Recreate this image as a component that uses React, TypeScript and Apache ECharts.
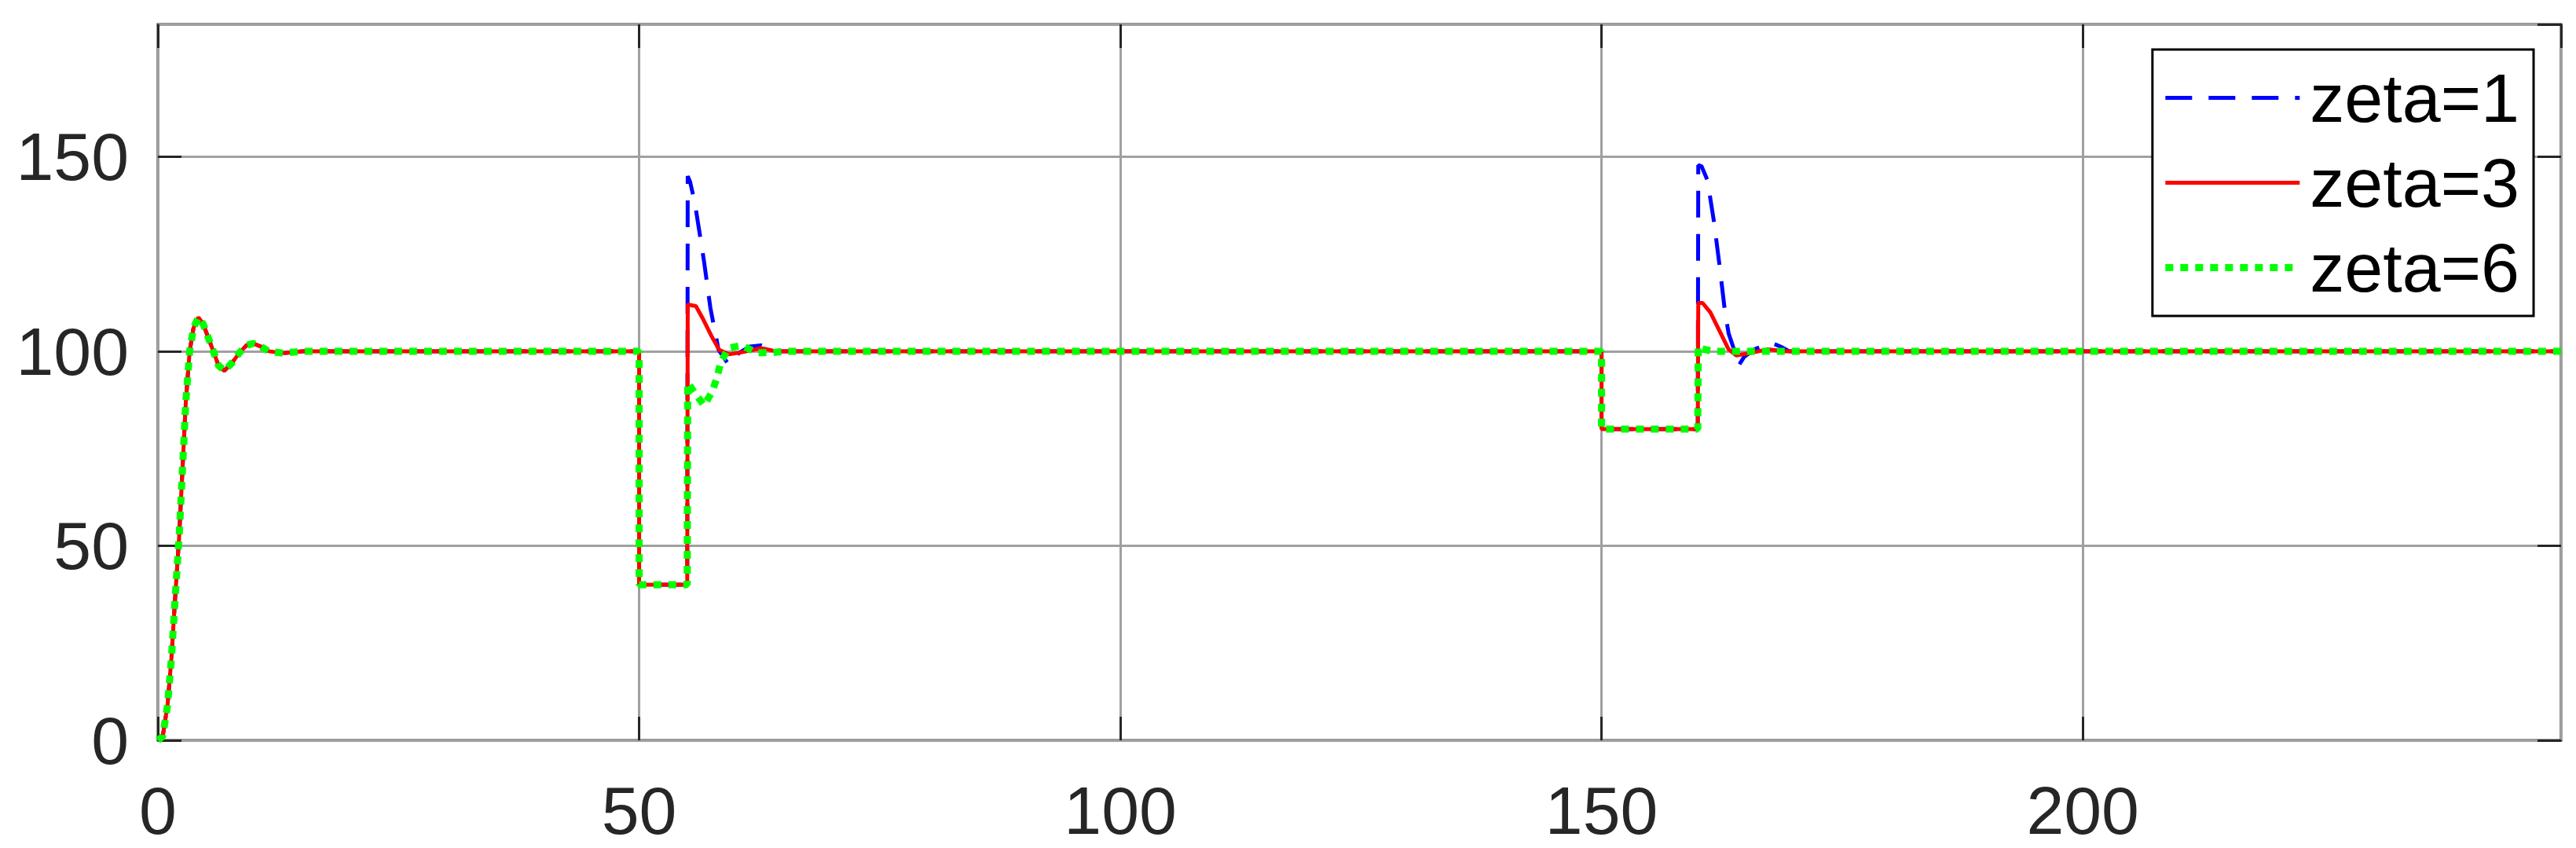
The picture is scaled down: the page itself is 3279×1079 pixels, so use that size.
import React, { useEffect, useRef } from "react";
import * as echarts from "echarts";

const seriesNames = ["zeta=1", "zeta=3", "zeta=6"];
const seriesColors = ["#0000ff", "#ff0000", "#00ff00"];
const xMax = 249.7;
const yMax = 184;

// shared start-up transient (all three curves coincide)
const startup: [number, number][] = [
  [0, 0], [0.5, 1], [1.0, 9], [1.4, 21], [1.8, 37], [2.2, 52], [2.6, 72], [2.9, 87],
  [3.3, 100], [3.7, 106], [4.2, 108.7], [4.7, 107], [5.2, 103.7], [5.8, 99.7],
  [6.3, 96.3], [6.9, 95], [7.7, 97], [8.5, 99.7], [9.2, 101.5], [9.9, 102],
  [10.7, 101.2], [11.5, 100], [13, 99.5], [15, 100],
];
// first set-point dip (shared)
const dip1: [number, number][] = [[50, 100], [50, 40], [55, 40]];
// second set-point dip (shared)
const dip2: [number, number][] = [[150, 100], [150, 80], [160, 80]];
const tail: [number, number][] = [[172, 100], [249.7, 100]];

// recovery after t = 55
const zeta1Rec1: [number, number][] = [
  [55.05, 145], [55.3, 143.5], [55.8, 138], [56.75, 123], [57.4, 111.2],
  [58.25, 100.4], [59.3, 96.5], [60.4, 99.6], [61.5, 101.2], [62.7, 101.5], [64.2, 100],
];
const zeta3Rec1: [number, number][] = [
  [55.05, 112], [55.9, 111.6], [56.7, 108], [57.5, 104], [58.3, 100.4],
  [59.3, 99.2], [60.4, 99.6], [62.7, 100.8], [64.2, 100],
];
const zeta6Rec1: [number, number][] = [
  [55.05, 91.9], [55.8, 89.2], [56.75, 86.1], [57.6, 89.6], [58.1, 93.4],
  [58.5, 97.3], [59.3, 100.8], [60.7, 101.5], [62.2, 99.6], [63.8, 99.6], [65, 100],
];

// recovery after t = 160
const zeta1Rec2: [number, number][] = [
  [160.05, 147.8], [160.4, 147.5], [161.0, 144], [161.7, 133], [162.25, 122.2],
  [162.8, 110.7], [163.2, 104.6], [164.3, 96.5], [164.8, 98.5], [165.9, 100.5],
  [167.6, 102.2], [168.6, 101.2], [169.5, 100],
];
const zeta3Rec2: [number, number][] = [
  [160.05, 112.4], [160.5, 112.4], [161.3, 110], [162.1, 106], [163.2, 100.5],
  [164, 98.9], [165.4, 99.5], [167.3, 100.5], [169, 100],
];
const zeta6Rec2: [number, number][] = [
  [160.05, 101.2], [160.3, 100.7], [161.5, 100],
];

const recoveries1 = [zeta1Rec1, zeta3Rec1, zeta6Rec1];
const recoveries2 = [zeta1Rec2, zeta3Rec2, zeta6Rec2];

const FONT = "'Liberation Sans', Arial, Helvetica, sans-serif";
const AX = "#262626";

function tick() {
  return { show: true, inside: true, length: 30, lineStyle: { color: AX, width: 3 } };
}

export default function App() {
  const ref = useRef<HTMLDivElement>(null);
  useEffect(() => {
    if (!ref.current) return;
    const chart = echarts.init(ref.current, undefined, { renderer: "svg" });

    const lineStyles: any[] = [
      { color: seriesColors[0], width: 5, type: [34, 21] },
      { color: seriesColors[1], width: 5, type: "solid" },
      { color: seriesColors[2], width: 9, type: [10, 9], cap: "butt" },
    ];

    const series = seriesNames.map((name, i) => ({
      type: "line",
      name,
      xAxisIndex: 0,
      yAxisIndex: 0,
      symbol: "none",
      showSymbol: false,
      lineStyle: lineStyles[i],
      itemStyle: { color: seriesColors[i] },
      data: [...startup, ...dip1, ...recoveries1[i], ...dip2, ...recoveries2[i], ...tail],
      z: 3 + i,
    }));

    chart.setOption({
      animation: false,
      backgroundColor: "#ffffff",
      grid: {
        left: 201,
        right: 19,
        top: 31,
        bottom: 137,
        show: true,
        borderColor: AX,
        borderWidth: 3,
        backgroundColor: "transparent",
      },
      xAxis: [
        {
          type: "value",
          min: 0,
          max: xMax,
          interval: 50,
          position: "bottom",
          axisLine: { show: false, onZero: false },
          axisTick: tick(),
          splitLine: { show: true, lineStyle: { color: "#a0a0a0", width: 3 } },
          axisLabel: {
            show: true,
            showMaxLabel: false,
            margin: 46,
            color: AX,
            fontSize: 86,
            lineHeight: 86,
            fontFamily: FONT,
          },
        },
        {
          type: "value",
          min: 0,
          max: xMax,
          interval: 50,
          position: "top",
          axisLine: { show: false, onZero: false },
          axisTick: tick(),
          splitLine: { show: false },
          axisLabel: { show: false },
        },
      ],
      yAxis: [
        {
          type: "value",
          min: 0,
          max: yMax,
          interval: 50,
          position: "left",
          axisLine: { show: false, onZero: false },
          axisTick: tick(),
          splitLine: { show: true, lineStyle: { color: "#a0a0a0", width: 3 } },
          axisLabel: {
            show: true,
            showMaxLabel: false,
            margin: 37,
            color: AX,
            fontSize: 86,
            fontFamily: FONT,
          },
        },
        {
          type: "value",
          min: 0,
          max: yMax,
          interval: 50,
          position: "right",
          axisLine: { show: false, onZero: false },
          axisTick: tick(),
          splitLine: { show: false },
          axisLabel: { show: false },
        },
      ],
      legend: {
        orient: "vertical",
        right: 54,
        top: 63,
        padding: [16, 18, 16, 12],
        borderColor: "#000000",
        borderWidth: 3,
        backgroundColor: "#ffffff",
        itemWidth: 171,
        itemHeight: 20,
        itemGap: 17,
        selectedMode: false,
        itemStyle: { opacity: 0 },
        lineStyle: { width: 5 },
        textStyle: { fontSize: 88, fontFamily: FONT, color: "#000000", lineHeight: 91, padding: [0, 0, 0, 8] },
        data: seriesNames.map((name, i) => ({
          name,
          lineStyle: { width: lineStyles[i].width, type: lineStyles[i].type, color: seriesColors[i] },
        })),
      },
      series,
    });
    return () => chart.dispose();
  }, []);

  return (
    <div
      ref={ref}
      style={{ position: "absolute", left: 0, top: 0, width: 3279, height: 1079, background: "#fff" }}
    />
  );
}
